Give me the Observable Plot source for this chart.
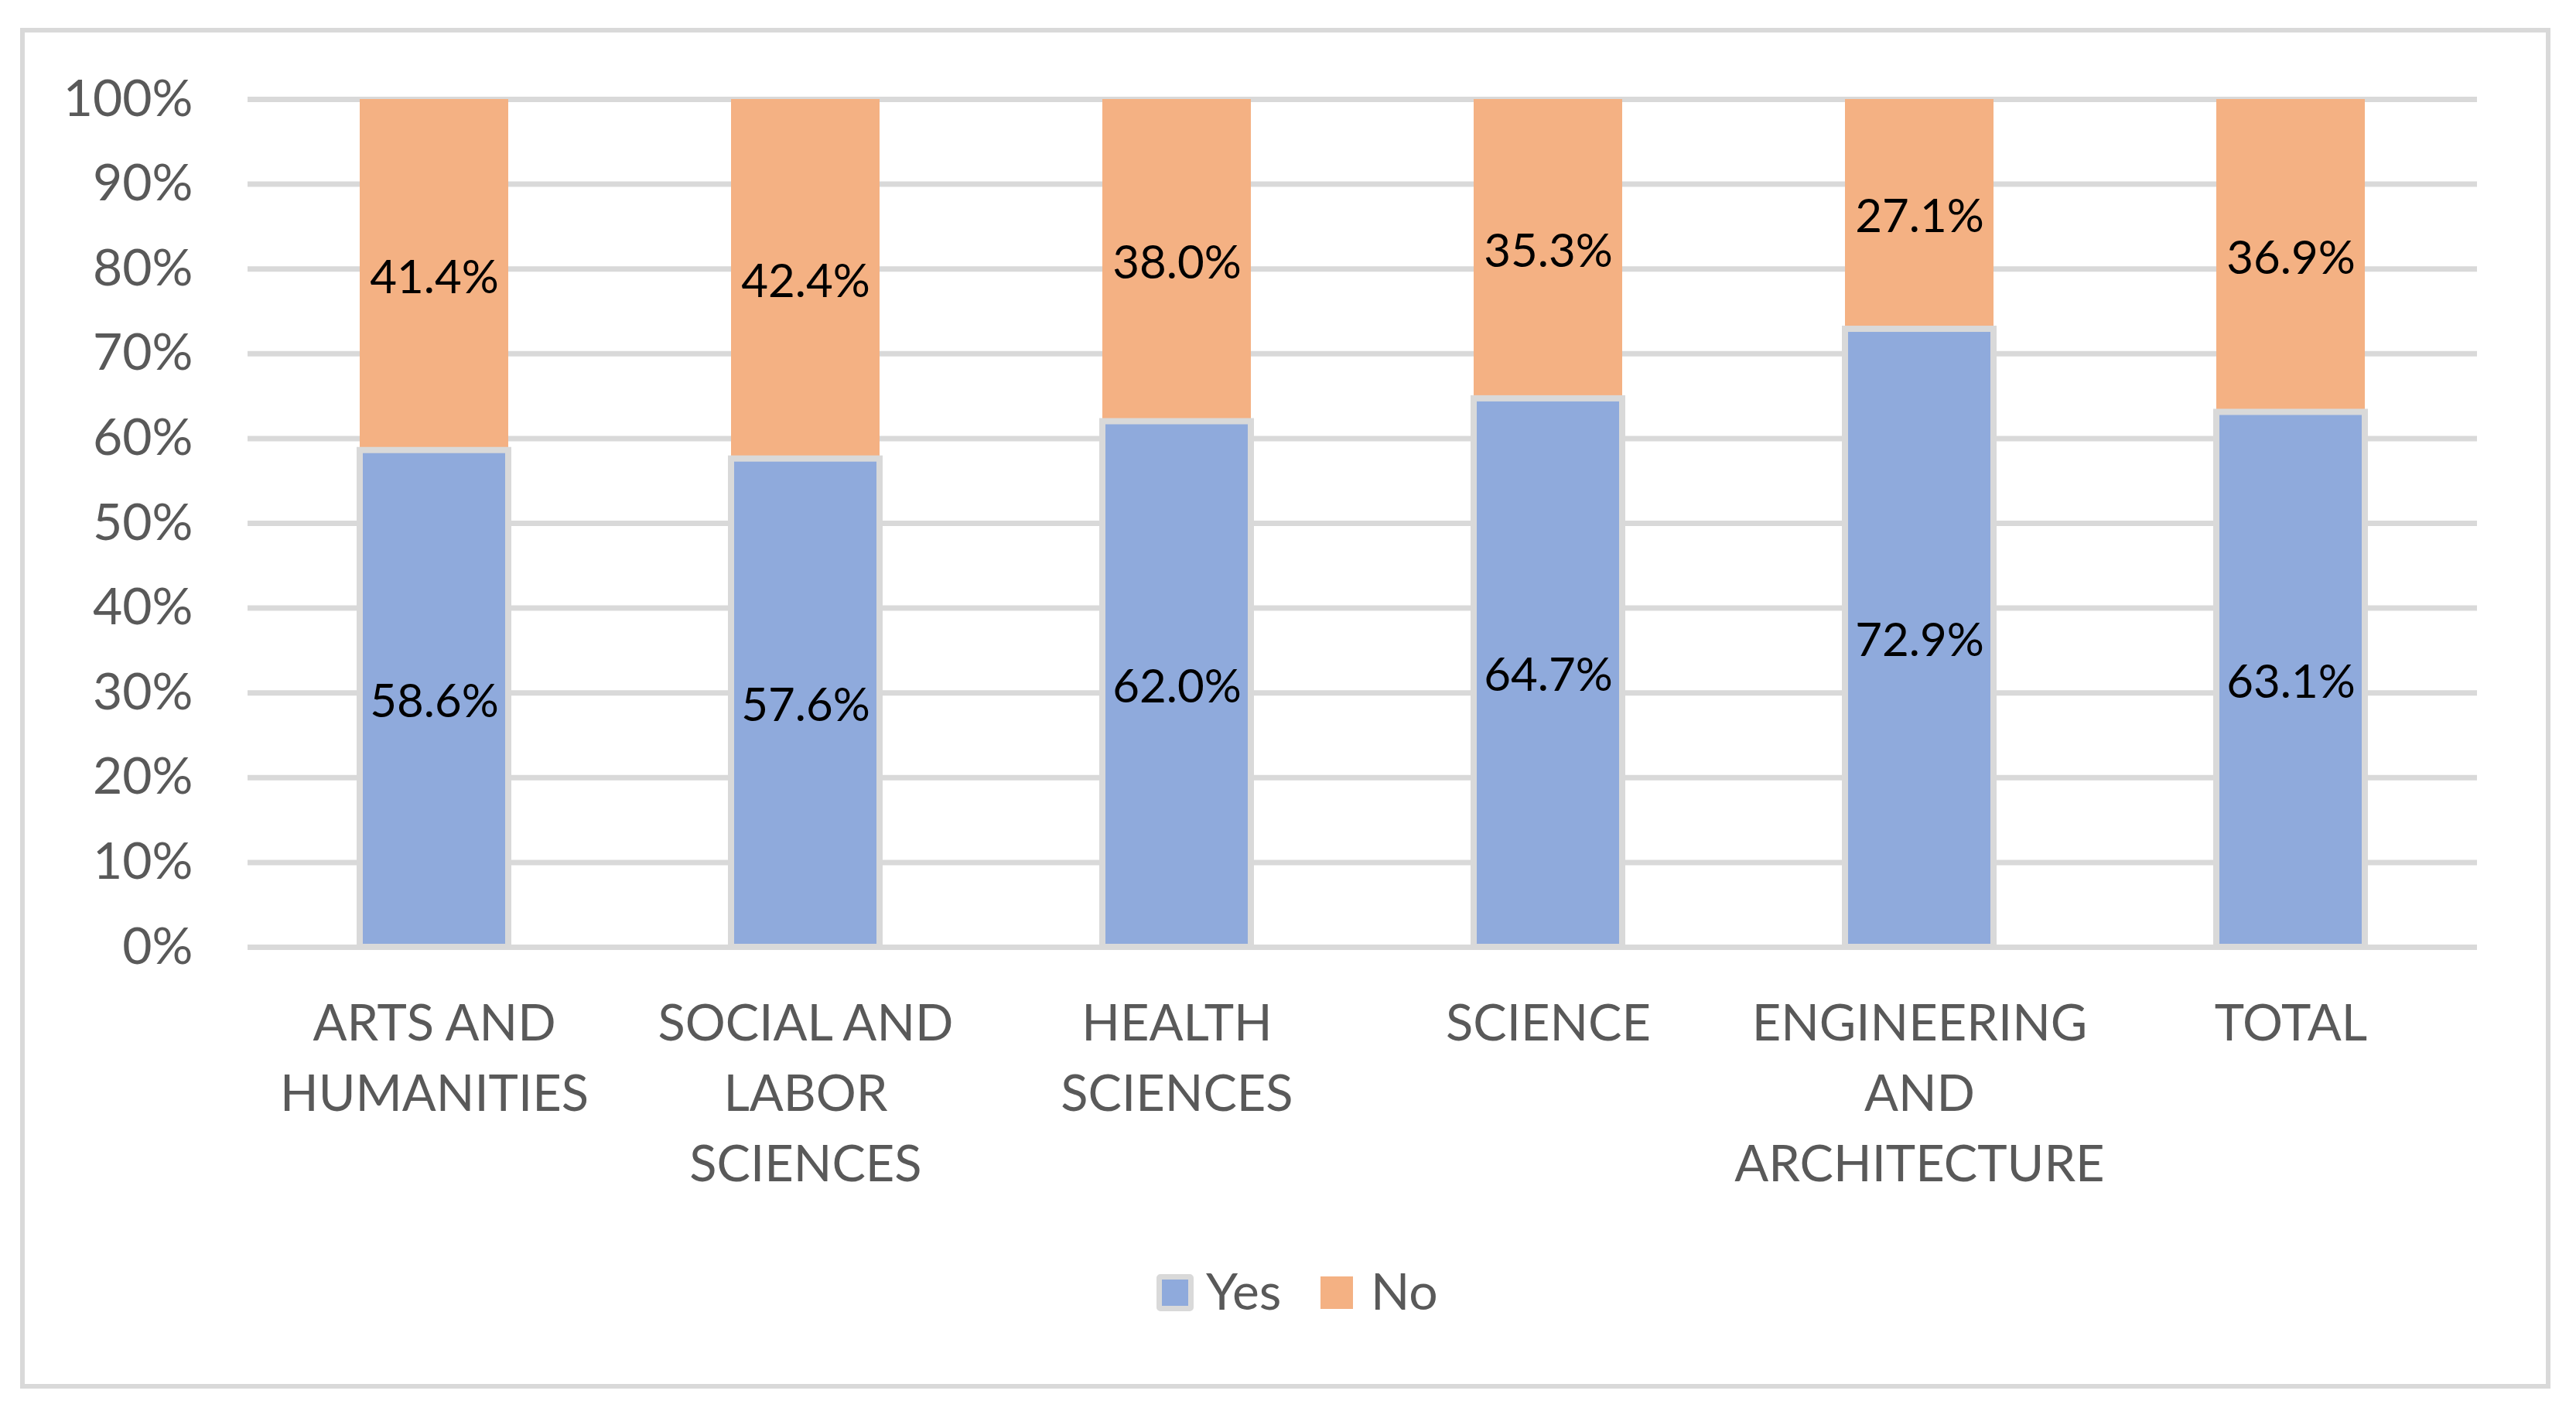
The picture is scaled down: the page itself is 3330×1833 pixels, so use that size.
<!DOCTYPE html>
<html>
<head>
<meta charset="utf-8">
<script src="https://cdn.jsdelivr.net/npm/d3@7"></script>
<script src="https://cdn.jsdelivr.net/npm/@observablehq/plot@0.6"></script>
<style>
  html, body { margin: 0; padding: 0; background: #fff; }
  #wrap { position: relative; width: 3330px; height: 1833px; overflow: hidden; font-family: Lato, "Open Sans", sans-serif; }
  #frame { position: absolute; left: 26px; top: 36px; width: 3271px; height: 1759px; border: 6px solid #d9d9d9; box-sizing: border-box; }
  #chart { position: absolute; left: 0; top: 0; }
  .sw { position: absolute; box-sizing: border-box; }
  .lt { position: absolute; font-size: 66px; line-height: 66px; color: #595959; white-space: nowrap; }
</style>
</head>
<body>
<div id="wrap">
  <div id="frame"></div>
  <div id="chart"></div>
  <div id="legend"></div>
</div>
<script>
const categories = ["ARTS AND\nHUMANITIES", "SOCIAL AND\nLABOR\nSCIENCES", "HEALTH\nSCIENCES", "SCIENCE", "ENGINEERING\nAND\nARCHITECTURE", "TOTAL"];
const series = ["Yes", "No"];
const yesValues = [58.6, 57.6, 62.0, 64.7, 72.9, 63.1];
const noValues = [41.4, 42.4, 38.0, 35.3, 27.1, 36.9];
const yTicks = [0, 10, 20, 30, 40, 50, 60, 70, 80, 90, 100];
const colors = ["#8FAADC", "#F4B183"];

const rows = categories.map((c, i) => ({cat: c, yes: yesValues[i], no: noValues[i]}));
const fmt = v => v.toFixed(1) + "%";

const plot = Plot.plot({
  width: 3330,
  height: 1833,
  marginLeft: 320,
  marginRight: 128,
  marginTop: 128,
  marginBottom: 609,
  style: {fontFamily: "Lato, 'Open Sans', sans-serif", background: "transparent", overflow: "visible"},
  x: {domain: categories, paddingInner: 0.6, paddingOuter: 0.3, label: null},
  y: {domain: [0, 100], label: null},
  marks: [
    Plot.gridY(yTicks, {stroke: "#d9d9d9", strokeWidth: 7, strokeOpacity: 1}),
    Plot.axisY(yTicks, {tickSize: 0, tickPadding: 71, tickFormat: d => d + "%", fontSize: 66, fill: "#595959", label: null}),
    Plot.axisX({tickSize: 0, tickPadding: 56, fontSize: 65, fill: "#595959", lineHeight: 1.4, label: null}),
    Plot.barY(rows, {x: "cat", y1: "yes", y2: 100, fill: colors[1]}),
    Plot.barY(rows, {x: "cat", y1: 0, y2: "yes", fill: colors[0], stroke: "#d9d9d9", strokeWidth: 8}),
    Plot.text(rows, {x: "cat", y: d => d.yes / 2, text: d => fmt(d.yes), fontSize: 60, fill: "#000", dy: 4}),
    Plot.text(rows, {x: "cat", y: d => d.yes + d.no / 2, text: d => fmt(d.no), fontSize: 60, fill: "#000", dy: 4})
  ]
});
document.getElementById("chart").appendChild(plot);

// legend
const legend = document.getElementById("legend");
const legendItems = [
  {label: series[0], color: colors[0], sw: {left: 1495, top: 1647, size: 48, border: "7px solid #d9d9d9", radius: 5}, textLeft: 1559},
  {label: series[1], color: colors[1], sw: {left: 1707, top: 1650, size: 42, border: "none", radius: 0}, textLeft: 1772}
];
for (const it of legendItems) {
  const s = document.createElement("div");
  s.className = "sw";
  Object.assign(s.style, {left: it.sw.left + "px", top: it.sw.top + "px", width: it.sw.size + "px", height: it.sw.size + "px", background: it.color, border: it.sw.border, borderRadius: it.sw.radius + "px"});
  legend.appendChild(s);
  const t = document.createElement("div");
  t.className = "lt";
  t.textContent = it.label;
  Object.assign(t.style, {left: it.textLeft + "px", top: "1635px"});
  legend.appendChild(t);
}
</script>
</body>
</html>
